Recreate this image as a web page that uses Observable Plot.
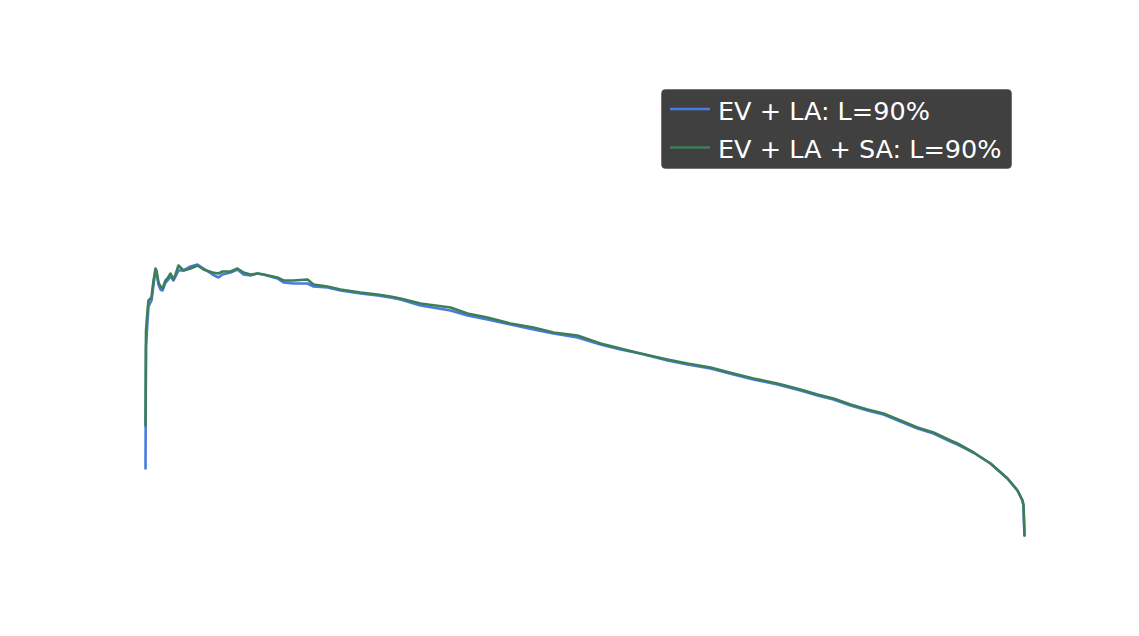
<!DOCTYPE html>
<html>
<head>
<meta charset="utf-8">
<script src="https://cdn.jsdelivr.net/npm/d3@7"></script>
<script src="https://cdn.jsdelivr.net/npm/@observablehq/plot@0.6"></script>
<style>
  html, body { margin: 0; padding: 0; background: #fff; }
  #wrap { position: relative; width: 1139px; height: 636px; }
  #legend { position: absolute; left: 661px; top: 89px; }
</style>
</head>
<body>
<div id="wrap"><div id="chart"></div><div id="legend"></div></div>
<script>
// Series labels and colours
const seriesNames = ["EV + LA: L=90%", "EV + LA + SA: L=90%"];
const seriesColors = ["#4a7be0", "#3e7d59"];

// Series 1: EV + LA  (step, value)
const evLaStep = [0, 0.5, 2, 3, 6, 8, 10, 11, 13, 15, 17, 20, 22, 25, 28, 30, 33, 38, 45, 52, 58, 67, 73, 77, 85, 92, 98, 105, 112, 118, 132, 138, 148, 162, 168, 182, 195, 215, 232, 245, 255, 275, 305, 322, 342, 365, 388, 408, 432, 455, 475, 495, 522, 542, 565, 588, 608, 632, 655, 672, 688, 705, 722, 738, 755, 772, 788, 805, 812, 828, 845, 862, 872, 877, 878, 879];
const evLaValue = [68, 190, 215, 230, 236, 252, 266, 264, 252, 247, 246, 254, 256, 260, 256, 260, 266, 266, 270, 272, 268, 262, 259, 262, 264, 267, 262, 261, 263, 262, 258, 254, 253, 253, 250, 249, 246, 243, 241, 239, 237, 231, 226, 221, 217, 212, 207, 203, 199, 192, 187, 183, 176, 172, 168, 162, 157, 152, 146, 141, 137, 131, 126, 122, 115, 108, 103, 95, 92, 84, 73, 58, 46, 36, 31, 1];

// Series 2: EV + LA + SA  (step, value)
const evLaSaStep = [0, 0.5, 2, 3, 6, 8, 10, 11, 13, 15, 17, 20, 22, 25, 28, 30, 33, 38, 45, 52, 58, 67, 73, 77, 85, 92, 98, 105, 112, 118, 132, 138, 148, 162, 168, 182, 195, 215, 232, 245, 255, 275, 305, 322, 342, 365, 388, 408, 432, 455, 475, 495, 522, 542, 565, 588, 608, 632, 655, 672, 688, 705, 722, 738, 755, 772, 788, 805, 812, 828, 845, 862, 872, 877, 878, 879];
const evLaSaValue = [111, 206, 226, 236, 239, 256, 268, 266, 254, 250, 248, 256, 258, 263, 257, 262, 271, 266, 268, 271, 267, 264, 263, 265, 265, 268, 264, 262, 263, 262, 259, 256, 256, 257, 252, 250, 247, 244, 242, 240, 238, 233, 229, 223, 219, 213, 209, 204, 201, 193, 188, 183, 177, 173, 169, 163, 158, 153, 147, 142, 138, 132, 127, 123, 116, 109, 104, 96, 93, 84, 73, 58, 46, 36, 31, 1];

const rows = [
  ...evLaStep.map((s, i) => ({series: seriesNames[0], step: s, value: evLaValue[i]})),
  ...evLaSaStep.map((s, i) => ({series: seriesNames[1], step: s, value: evLaSaValue[i]}))
];

const chart = Plot.plot({
  width: 1139,
  height: 636,
  marginLeft: 145,
  marginRight: 115,
  marginTop: 264,
  marginBottom: 100,
  x: {domain: [0, 879], axis: null},
  y: {domain: [0, 272], axis: null},
  color: {domain: seriesNames, range: seriesColors},
  style: {background: "white"},
  marks: [
    Plot.line(rows, {x: "step", y: "value", z: "series", stroke: "series", strokeWidth: 2.6, strokeLinejoin: "round"})
  ]
});
document.getElementById("chart").appendChild(chart);

// Legend (overlay box)
const lg = d3.select("#legend").append("svg").attr("width", 352).attr("height", 81);
lg.append("rect").attr("x", 0.5).attr("y", 0.5).attr("width", 350).attr("height", 79)
  .attr("rx", 4).attr("fill", "#404040").attr("stroke", "#555").attr("stroke-width", 0.6);
seriesNames.forEach((name, i) => {
  const cy = 20 + i * 38.5;
  lg.append("line").attr("x1", 9).attr("x2", 49).attr("y1", cy).attr("y2", cy)
    .attr("stroke", seriesColors[i]).attr("stroke-width", 2.5);
  lg.append("text").attr("x", 57).attr("y", cy + 10.5)
    .attr("fill", "#ffffff").attr("font-family", "DejaVu Sans")
    .attr("font-size", 25.5).text(name);
});
</script>
</body>
</html>
